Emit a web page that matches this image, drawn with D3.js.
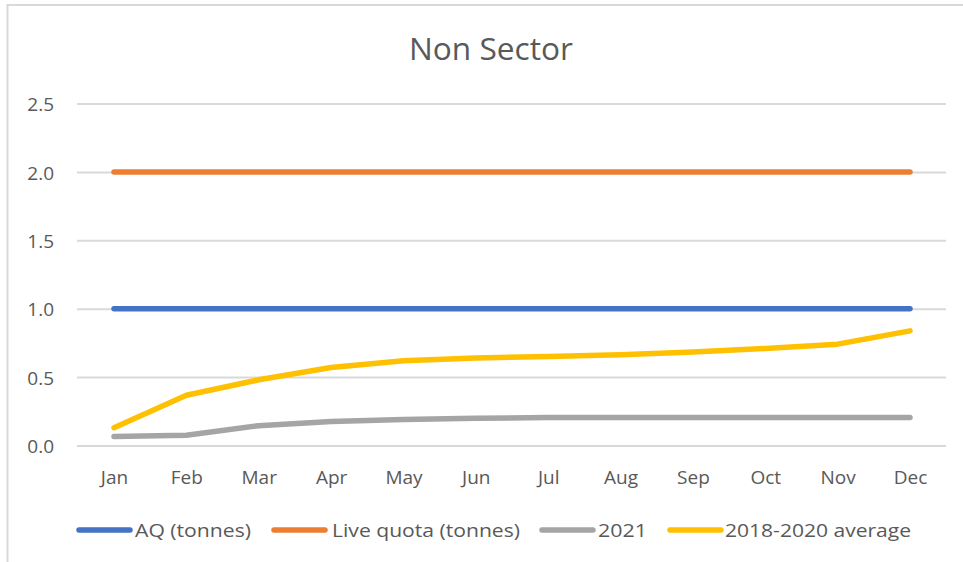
<!DOCTYPE html>
<html><head><meta charset="utf-8">
<script src="https://cdn.jsdelivr.net/npm/d3@7"></script>
<style>body{margin:0;background:#fff}svg{display:block}text{font-family:"Open Sans",Lato,sans-serif;fill:#595959}</style>
</head><body><svg id="c" width="963" height="562"></svg>
<script>
const months = ["Jan","Feb","Mar","Apr","May","Jun","Jul","Aug","Sep","Oct","Nov","Dec"];
const aq = [1,1,1,1,1,1,1,1,1,1,1,1];
const liveQuota = [2,2,2,2,2,2,2,2,2,2,2,2];
const y2021 = [0.066,0.075,0.145,0.175,0.19,0.2,0.204,0.204,0.204,0.204,0.204,0.204];
const avg1820 = [0.13,0.367,0.48,0.57,0.62,0.639,0.651,0.663,0.683,0.709,0.741,0.838];
const yTicks = [0,0.5,1,1.5,2,2.5];
const seriesNames = ["AQ (tonnes)","Live quota (tonnes)","2021","2018-2020 average"];
const colors = ["#4472C4","#ED7D31","#A5A5A5","#FFC000"];
const series = [aq, liveQuota, y2021, avg1820];

const svg = d3.select("#c");
svg.append("rect").attr("x",7.5).attr("y",5).attr("width",1000).attr("height",600)
  .attr("fill","none").attr("stroke","#d9d9d9").attr("stroke-width",2);

const x = d3.scalePoint().domain(months).range([114,910]);
const y = d3.scaleLinear().domain([0,2.5]).range([445.5,103.5]);

svg.append("text").attr("x",491).attr("y",60).attr("text-anchor","middle")
  .attr("font-size",31).attr("textLength",164).attr("lengthAdjust","spacingAndGlyphs").text("Non Sector");

const yAxis = svg.append("g").attr("transform","translate(77,0)")
  .call(d3.axisLeft(y).tickValues(yTicks).tickFormat(d3.format(".1f")).tickSize(-869).tickPadding(23));
yAxis.select(".domain").remove();
yAxis.selectAll("line").attr("stroke","#d9d9d9").attr("stroke-width",2);
yAxis.selectAll("text").attr("font-size",19).attr("fill","#595959").attr("dy","0.38em");

const xAxis = svg.append("g").attr("transform","translate(0,445.5)")
  .call(d3.axisBottom(x).tickSize(0));
xAxis.select(".domain").remove();
xAxis.selectAll("text").attr("font-size",19).attr("fill","#595959").attr("y",38).attr("dy",0);

const line = d3.line().x((d,i)=>x(months[i])).y(d=>y(d));
series.forEach((s,k)=>{
  svg.append("path").datum(s).attr("d",line).attr("fill","none")
    .attr("stroke",colors[k]).attr("stroke-width",5.5).attr("stroke-linecap","round").attr("stroke-linejoin","round");
});

const legLine = [77,272,540,668];
const legText = [135,332,598,725];
const legW = [116,188,49,186];
const lg = svg.append("g");
seriesNames.forEach((n,k)=>{
  lg.append("line").attr("x1",legLine[k]+2).attr("x2",legLine[k]+53).attr("y1",530).attr("y2",530)
    .attr("stroke",colors[k]).attr("stroke-width",5.5).attr("stroke-linecap","round");
  lg.append("text").attr("x",legText[k]).attr("y",537).attr("font-size",19)
    .attr("textLength",legW[k]).attr("lengthAdjust","spacingAndGlyphs").text(n);
});
</script></body></html>
